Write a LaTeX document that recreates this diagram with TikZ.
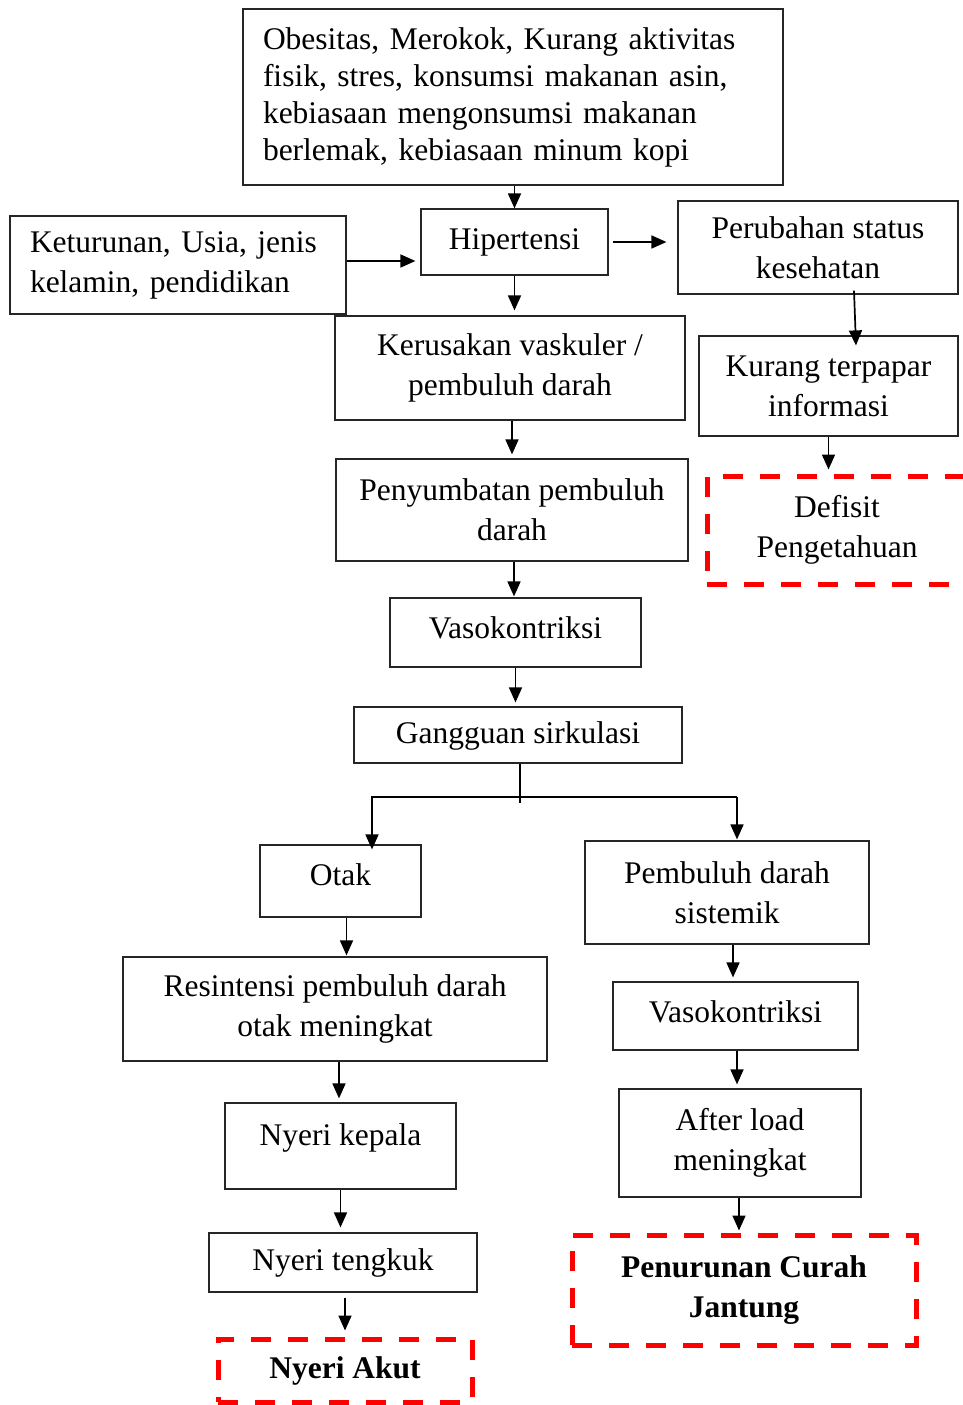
\documentclass[tikz,border=0pt]{standalone}
\usepackage{fontspec}
\setmainfont{Liberation Serif}
\usetikzlibrary{arrows.meta,calc}
\begin{document}
\begin{tikzpicture}[x=1pt,y=-1pt,
  font=\fontsize{31.5}{40}\selectfont,
  box/.style={draw=black!85,line width=1.2pt,inner sep=0pt,align=center,anchor=center},
  redbox/.style={draw=red,line width=5pt,dash pattern=on 20pt off 17pt,inner sep=0pt,align=center,anchor=center,font=\fontsize{31.5}{40}\selectfont\bfseries},
  arr/.style={line width=1.7pt,-{Triangle[length=15pt,width=13pt]}},
  ln/.style={line width=1.7pt}]
\useasboundingbox (0,0) rectangle (963,1405);
\clip (0,0) rectangle (963,1405);
% boxes
\node[box,font=\fontsize{31.5}{37}\selectfont,minimum width=540pt,minimum height=176pt,text width=500pt,align=left] (obes) at (513,97)
  {Obesitas, Merokok, Kurang aktivitas\\fisik, stres, konsumsi makanan asin,\\kebiasaan mengonsumsi makanan\\berlemak, kebiasaan minum kopi};
\node[box,minimum width=336pt,minimum height=98pt,text width=296pt,align=left] (ket) at (178,265)
  {Keturunan, Usia, jenis\\kelamin, pendidikan};
\node[box,minimum width=187pt,minimum height=66pt] (hip) at (514.5,242) {Hipertensi};
\node[box,minimum width=280pt,minimum height=93pt] (per) at (818,247.5) {Perubahan status\\kesehatan};
\node[box,minimum width=259pt,minimum height=100pt] (kur) at (828.5,386) {Kurang terpapar\\informasi};
\node[redbox,font=\fontsize{31.5}{40}\selectfont,minimum width=260pt,minimum height=108pt] (def) at (837,530) {Defisit\\Pengetahuan};
\node[box,minimum width=350pt,minimum height=104pt] (ker) at (510,368) {Kerusakan vaskuler /\\pembuluh darah};
\node[box,minimum width=352pt,minimum height=102pt] (peny) at (512,510) {Penyumbatan pembuluh\\darah};
\node[box,minimum width=251pt,minimum height=69pt,text depth=9pt] (vaso) at (515.5,632.5) {Vasokontriksi};
\node[box,minimum width=328pt,minimum height=56pt,text depth=5pt] (gang) at (518,735) {Gangguan sirkulasi};
\node[box,minimum width=161pt,minimum height=72pt,text depth=12pt] (otak) at (340.5,881) {Otak};
\node[box,minimum width=284pt,minimum height=103pt] (pem) at (727,892.5) {Pembuluh darah\\sistemik};
\node[box,minimum width=424pt,minimum height=104pt] (res) at (335,1009) {Resintensi pembuluh darah\\otak meningkat};
\node[box,minimum width=245pt,minimum height=68pt,text depth=8pt] (vasob) at (735.5,1016) {Vasokontriksi};
\node[box,minimum width=231pt,minimum height=86pt,text depth=22pt] (kep) at (340.5,1146) {Nyeri kepala};
\node[box,minimum width=242pt,minimum height=108pt] (after) at (740,1143) {After load\\meningkat};
\node[box,minimum width=268pt,minimum height=59pt,text depth=5pt] (teng) at (343,1262.5) {Nyeri tengkuk};
\node[redbox,minimum width=254pt,minimum height=63pt] (akut) at (345,1370.5) {Nyeri Akut};
\node[redbox,minimum width=344pt,minimum height=110pt] (pcj) at (744,1290) {Penurunan Curah\\Jantung};
% connectors
\draw[arr] (obes.south -| hip.north) -- (hip.north);
\draw[arr,shorten >=5pt] ([yshift=4pt]ket.east) -- ([yshift=4pt]ket.east -| hip.west);
\draw[arr,shorten <=4pt,shorten >=11pt] (hip.east) -- (hip.east -| per.west);
\draw[arr,shorten >=5pt] (hip.south) -- (hip.south |- ker.north);
\draw[arr] ([xshift=36pt,yshift=4pt]per.south) -- ([xshift=27.5pt,yshift=-10pt]kur.north);
\draw[arr,shorten >=4pt] (kur.south) -- (kur.south |- def.north);
\draw[arr,shorten >=4pt] ([xshift=2pt]ker.south) -- ([xshift=2pt]ker.south |- peny.north);
\draw[arr,shorten >=1pt] ([xshift=2pt]peny.south) -- ([xshift=2pt]peny.south |- vaso.north);
\draw[arr,shorten >=4pt] (vaso.south) -- (vaso.south |- gang.north);
\coordinate (bm) at (520,797);
\coordinate (bl) at (372,797);
\coordinate (brr) at (737,797);
\draw[ln] (gang.south -| bm) -- ([yshift=-6pt]bm);
\draw[arr] (brr) -- (bl) -- ([yshift=-5pt]bl |- otak.north);
\draw[arr,shorten >=1pt] (brr) -- (brr |- pem.north);
\draw[arr,shorten >=1pt] ([xshift=6pt]otak.south) -- ([xshift=6pt]otak.south |- res.north);
\draw[arr,shorten >=4pt] ([xshift=-1.5pt]kep.north |- res.south) -- ([xshift=-1.5pt]kep.north);
\draw[arr,shorten >=5pt] (kep.south) -- (kep.south |- teng.north);
\draw[arr,shorten <=5pt,shorten >=6pt] (akut.north |- teng.south) -- (akut.north);
\draw[arr,shorten >=4pt] ([xshift=6pt]pem.south) -- ([xshift=6pt]pem.south |- vasob.north);
\draw[arr,shorten >=4pt] ([xshift=1.5pt]vasob.south) -- ([xshift=1.5pt]vasob.south |- after.north);
\draw[arr,shorten >=2pt] ([xshift=-1pt]after.south) -- ([xshift=-1pt]after.south |- pcj.north);
\end{tikzpicture}
\end{document}
